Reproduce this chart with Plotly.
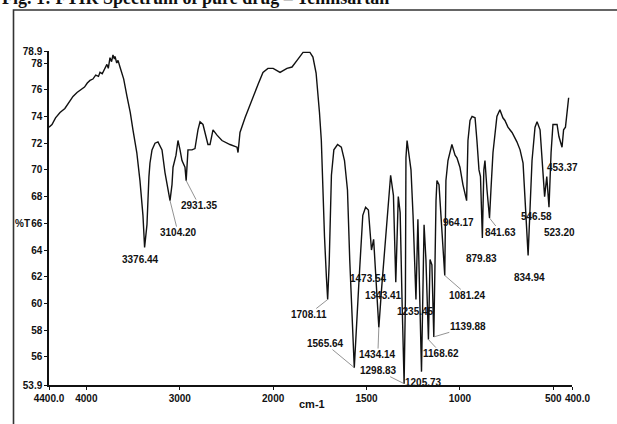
import plotly.graph_objects as go

# ---------------- data ----------------
wavenumber = [
    4400, 4368, 4330, 4282, 4230, 4180, 4143, 4100, 4060, 4020, 3990, 3961, 3930, 3900, 3870,
    3854, 3830, 3800, 3780, 3765, 3747, 3730, 3715, 3700, 3693, 3675, 3661, 3640, 3600, 3565,
    3530, 3501, 3460, 3426, 3394, 3376.44, 3351, 3330, 3319, 3297, 3265, 3233, 3190, 3158, 3126,
    3104.20, 3083, 3072, 3040, 3019, 2997, 2976, 2944, 2931.35, 2912, 2869, 2837, 2805, 2783, 2751,
    2730, 2698, 2676, 2644, 2601, 2548, 2462, 2387, 2376, 2355, 2301, 2216, 2162, 2109, 2056,
    2000, 1963, 1926, 1899, 1872, 1840, 1803, 1787, 1770, 1762, 1752, 1742, 1735, 1725, 1715,
    1708.11, 1700, 1695, 1688, 1675, 1655, 1635, 1618, 1602, 1590, 1565.64, 1556, 1540, 1520, 1505,
    1490, 1480, 1473.54, 1462, 1450, 1434.14, 1420, 1398, 1382, 1371, 1356, 1350, 1343.41, 1330, 1320,
    1310, 1298.83, 1292, 1289, 1283, 1273, 1262, 1251, 1235.45, 1225, 1205.73, 1192, 1182, 1168.62, 1160,
    1150, 1139.88, 1128, 1123, 1112, 1101, 1081.24, 1075, 1064, 1043, 1026, 1016, 1000, 984, 964.17,
    957, 946, 935, 919, 909, 898, 890, 879.83, 872, 866, 855, 841.63, 834, 823, 802,
    786, 770, 759, 743, 721, 695, 678, 662, 652, 634.94, 625, 614, 598, 587, 571,
    560, 546.58, 535, 523.20, 512, 502, 480, 470, 453.37, 445, 435, 425, 418,
]
transmittance = [
    73.2, 73.4, 73.9, 74.3, 74.6, 75.1, 75.5, 75.8, 76.0, 76.2, 76.5, 76.7, 76.8, 77.1, 77.0,
    77.3, 77.2, 77.6, 77.9, 77.6, 78.4, 78.1, 78.6, 78.3, 78.5, 78.0, 78.2, 77.7, 76.8, 75.5,
    74.3, 73.0, 71.3, 69.2, 66.6, 64.2, 65.9, 69.5, 70.5, 71.5, 72.0, 72.1, 71.5, 69.8, 68.5,
    67.7, 68.9, 70.2, 71.1, 72.2, 71.5, 70.7, 70.2, 69.2, 71.5, 71.5, 71.6, 73.0, 73.6, 73.4,
    72.8, 71.9, 71.9, 73.0, 72.6, 72.2, 71.9, 71.7, 71.3, 72.8, 73.9, 75.5, 76.4, 77.3, 77.6,
    77.6, 77.3, 77.6, 77.7, 78.2, 78.8, 78.8, 78.45, 77.25, 76.1, 74.3, 72.2, 69.0, 65.0, 62.0,
    60.3, 63.0, 65.5, 69.6, 71.5, 71.9, 71.7, 70.7, 68.5, 63.3, 55.2, 58.0, 61.8, 66.6, 67.2,
    67.0, 64.8, 64.0, 64.8, 61.5, 58.2, 61.0, 64.8, 67.7, 69.6, 68.1, 64.0, 61.6, 68.0, 66.8,
    60.3, 54.0, 60.3, 70.9, 72.2, 71.1, 70.0, 66.6, 60.3, 66.3, 54.9, 65.9, 63.3, 57.3, 63.3,
    62.9, 57.5, 67.7, 69.2, 68.9, 66.3, 62.1, 69.2, 70.7, 71.9, 71.1, 70.9, 70.2, 68.9, 67.7,
    72.2, 73.7, 74.0, 73.9, 72.2, 70.0, 69.5, 64.9, 70.0, 70.7, 68.5, 66.4, 68.5, 71.3, 74.0,
    74.5, 73.9, 73.7, 73.2, 72.8, 72.1, 71.5, 70.5, 67.7, 63.6, 67.0, 70.7, 73.2, 73.6, 73.0,
    70.5, 68.0, 69.5, 67.2, 71.3, 73.4, 73.4, 72.5, 71.7, 73.0, 73.2, 74.5, 75.4,
]

# labelled bands: printed label text and band position
peak_text = ["3376.44", "3104.20", "2931.35", "1708.11", "1565.64", "1473.54", "1434.14",
             "1343.41", "1298.83", "1235.45", "1205.73", "1168.62", "1139.88", "1081.24",
             "964.17", "879.83", "841.63", "834.94", "546.58", "523.20", "453.37"]
peak_wn = [3376.44, 3104.20, 2931.35, 1708.11, 1565.64, 1473.54, 1434.14,
           1343.41, 1298.83, 1235.45, 1205.73, 1168.62, 1139.88, 1081.24,
           964.17, 879.83, 841.63, 634.94, 546.58, 523.20, 453.37]

tick_wn = [4400, 4000, 3000, 2000, 1500, 1000, 500, 400]
tick_text = ["4400.0", "4000", "3000", "2000", "1500", "1000", "500", "400.0"]
ytick_vals = [53.9, 56, 58, 60, 62, 64, 66, 68, 70, 72, 74, 76, 78, 78.9]
ytick_text = ["53.9", "56", "58", "60", "62", "64", "66", "68", "70", "72", "74", "76", "78", "78.9"]


# FTIR instruments halve the scale below 2000 cm-1: piecewise axis
def to_u(w):
    return 4400 - w if w >= 2000 else 2400 + 2 * (2000 - w)


xu = [to_u(w) for w in wavenumber]

# ---------------- styling / layout ----------------
W, H = 617, 424
ML, MR, MT, MB = 49, 45, 51, 39
PW, PH = W - ML - MR, H - MT - MB

LBL = dict(family="Liberation Sans, Arial, sans-serif",
           size=10, color="#111111", weight="bold")

# (ax, ay, show leader line) per label, in pixels
label_style = {
    "3376.44": (-4, 12, False), "3104.20": (8, 32, True), "2931.35": (13, 25, True),
    "1708.11": (-19, 15, True), "1565.64": (-29, -24, True), "1473.54": (-3, 28, False),
    "1434.14": (-1, 27, True), "1343.41": (-12, 13, False), "1298.83": (-26, -13, True),
    "1235.45": (0, 12, False), "1205.73": (2, 11, False), "1168.62": (13, 14, True),
    "1139.88": (34, -10, True), "1081.24": (23, 20, True), "964.17": (-8, 22, False),
    "879.83": (-1, 20, False), "841.63": (11, 14, True), "834.94": (1, 22, False),
    "546.58": (-8, 20, False), "523.20": (11, 25, False), "453.37": (0, 20, False),
}


def px2paper_x(px):
    return (px - ML) / PW


def py2paper_y(py):
    return (H - MB - py) / PH


fig = go.Figure()
fig.add_trace(go.Scatter(x=xu, y=transmittance, mode="lines",
                         line=dict(color="#111111", width=1.4),
                         hoverinfo="skip", showlegend=False))

annotations = []
for txt, w in zip(peak_text, peak_wn):
    i = min(range(len(wavenumber)), key=lambda k: abs(wavenumber[k] - w))
    ax, ay, line = label_style[txt]
    annotations.append(dict(
        x=to_u(w), y=transmittance[i], xref="x", yref="y", text=txt,
        showarrow=True, arrowhead=0, ax=ax, ay=ay,
        arrowwidth=0.8, arrowcolor="#777777" if line else "rgba(0,0,0,0)",
        font=LBL, borderpad=0,
    ))

# the last two x tick labels are printed close together; place "400.0" beside "500"
xtick_show = [t if w != 400 else "" for t, w in zip(tick_text, tick_wn)]
annotations += [
    dict(text=tick_text[-1], xref="paper", yref="paper", x=px2paper_x(563), y=py2paper_y(398),
         xanchor="left", yanchor="middle", showarrow=False, font=LBL),
    dict(text="%T", xref="paper", yref="paper", x=px2paper_x(22), y=py2paper_y(223),
         xanchor="center", yanchor="middle", showarrow=False, font=LBL),
    dict(text="cm-1", xref="paper", yref="paper", x=px2paper_x(312), y=py2paper_y(404),
         xanchor="center", yanchor="middle", showarrow=False, font=dict(LBL, size=11)),
    dict(text="Fig. 1: FTIR Spectrum of pure drug \u2013 Telmisartan", xref="paper", yref="paper",
         x=px2paper_x(0), y=py2paper_y(-2), xanchor="left", yanchor="middle", showarrow=False,
         font=dict(family="Liberation Serif, Times New Roman, serif", size=18,
                   color="#111111", weight="bold")),
]

fig.update_layout(
    width=W, height=H,
    margin=dict(l=ML, r=MR, t=MT, b=MB, pad=0),
    paper_bgcolor="white", plot_bgcolor="white",
    annotations=annotations,
    shapes=[dict(type="rect", xref="paper", yref="paper",
                 x0=px2paper_x(13.5), x1=px2paper_x(640),
                 y0=py2paper_y(450), y1=py2paper_y(10),
                 line=dict(color="#333333", width=1.6), layer="below")],
    xaxis=dict(range=[0, to_u(400)], tickmode="array",
               tickvals=[to_u(w) for w in tick_wn], ticktext=xtick_show, tickangle=0,
               showgrid=False, zeroline=False, showline=True, linecolor="#111111",
               linewidth=1.5, ticks="outside", ticklen=3, tickcolor="#111111",
               tickfont=LBL),
    yaxis=dict(range=[53.9, 78.9], tickmode="array", tickvals=ytick_vals,
               ticktext=ytick_text, showgrid=False, zeroline=False, showline=True,
               linecolor="#111111", linewidth=1.5, ticks="outside", ticklen=3,
               tickcolor="#111111", tickfont=LBL),
)

fig.write_html("out.html")
